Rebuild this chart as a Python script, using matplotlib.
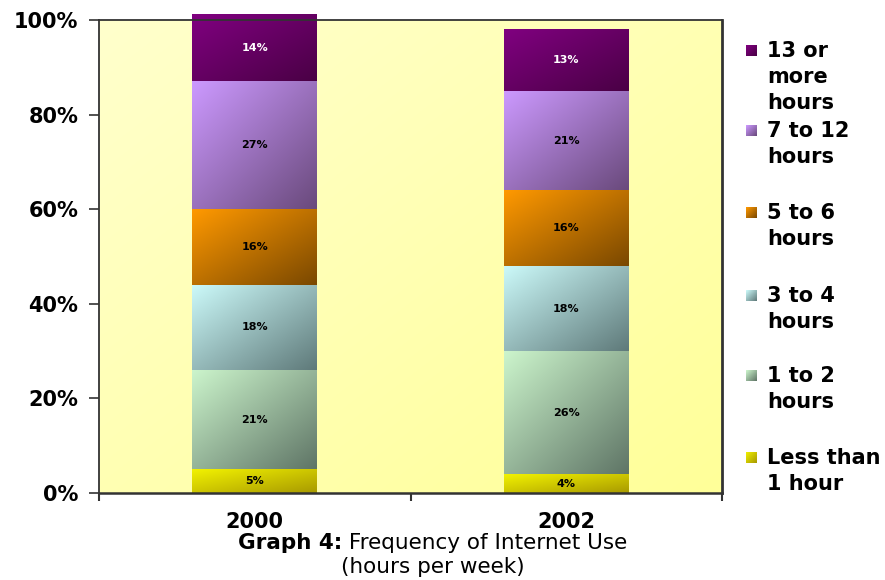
import numpy as np
import matplotlib
matplotlib.use("Agg")
import matplotlib.pyplot as plt
from matplotlib.colors import to_rgb

# Data: share of respondents by weekly hours online
years = ["2000", "2002"]
categories = ["Less than\n1 hour", "1 to 2\nhours", "3 to 4\nhours",
              "5 to 6\nhours", "7 to 12\nhours", "13 or\nmore\nhours"]
values_2000 = [5, 21, 18, 16, 27, 14]
values_2002 = [4, 26, 18, 16, 21, 13]
series = [values_2000, values_2002]
yticks = [0, 20, 40, 60, 80, 100]
ytick_labels = ["0%", "20%", "40%", "60%", "80%", "100%"]

# light (top-left) and dark (bottom-right) gradient colours per category
light = ["#f2f200", "#ccf5cc", "#ccfafa", "#ff9900", "#cc99ff", "#800080"]
dark = ["#a89a00", "#5f7566", "#5f7a7a", "#7a4800", "#6a4a7c", "#4a0045"]
label_colors = ["black", "black", "black", "black", "black", "white"]

W, H = 885, 580
fig = plt.figure(figsize=(W / 100, H / 100), dpi=100)
ax = fig.add_axes([99 / W, 1 - 493 / H, (722 - 99) / W, (493 - 20) / H])


def gradient(c0, c1, n=80):
    u = np.linspace(0, 1, n)[None, :]
    v = np.linspace(0, 1, n)[:, None]  # row 0 at top
    t = (u + v) / 2.0
    a = np.array(to_rgb(c0))
    b = np.array(to_rgb(c1))
    return a[None, None, :] * (1 - t[..., None]) + b[None, None, :] * t[..., None]


# plot area background
ax.imshow(gradient("#ffffcc", "#ffff99"), extent=(-0.5, 1.5, 0, 100),
          aspect="auto", interpolation="bilinear", zorder=0)

bar_w = 0.4
for xi, vals in enumerate(series):
    bottom = 0
    for ci, v in enumerate(vals):
        x0, x1 = xi - bar_w / 2, xi + bar_w / 2
        im = ax.imshow(gradient(light[ci], dark[ci]),
                       extent=(x0, x1, bottom, bottom + v),
                       aspect="auto", interpolation="bilinear", zorder=2)
        im.set_clip_on(False)
        ax.text(xi, bottom + v / 2, f"{v}%", ha="center", va="center",
                fontsize=8, fontweight="bold", color=label_colors[ci], zorder=3)
        bottom += v

ax.set_xlim(-0.5, 1.5)
ax.set_ylim(0, 100)
ax.set_yticks(yticks)
ax.set_yticklabels(ytick_labels, fontsize=15, fontweight="bold")
ax.set_xticks([-0.5, 0.5, 1.5])
ax.set_xticklabels([])
ax.tick_params(axis="y", direction="out", length=7, width=1.2, pad=8, color="#333333")
ax.tick_params(axis="x", direction="out", length=6, width=1.5, color="#333333")
for s in ax.spines.values():
    s.set_color("#333333")
    s.set_linewidth(1.3)
ax.spines["right"].set_linewidth(2)
ax.spines["bottom"].set_linewidth(1.8)

# year labels under the bars
for xi, yr in enumerate(years):
    ax.text(xi, -6.2, yr, ha="center", va="center", fontsize=15,
            fontweight="bold", transform=ax.transData, clip_on=False)

# caption with bold prefix
fig.canvas.draw()
r = fig.canvas.get_renderer()
t1 = fig.text(0, 0, "Graph 4:", fontsize=15.5, fontweight="bold")
t2 = fig.text(0, 0, " Frequency of Internet Use", fontsize=15.5)
w1 = t1.get_window_extent(r).width
w2 = t2.get_window_extent(r).width
cx = 433
start = cx - (w1 + w2) / 2
ycap = 1 - 543 / H
t1.set_position((start / W, ycap))
t1.set_va("center")
t2.set_position(((start + w1) / W, ycap))
t2.set_va("center")
fig.text(cx / W, 1 - 567 / H, "(hours per week)", fontsize=15.5,
         ha="center", va="center")

# legend, top entry first
tops = [457, 375, 295, 212, 130, 50]
for ci in range(len(categories)):
    ytop = tops[ci]
    sq = fig.add_axes([746 / W, 1 - (ytop + 6) / H, 11 / W, 11 / H])
    sq.imshow(gradient(light[ci], dark[ci], 20), aspect="auto",
              interpolation="bilinear")
    sq.set_axis_off()
    fig.text(767 / W, 1 - (ytop - 9) / H, categories[ci], fontsize=15,
             fontweight="bold", va="top", ha="left", linespacing=1.37)

fig.savefig("out.png", dpi=100)
